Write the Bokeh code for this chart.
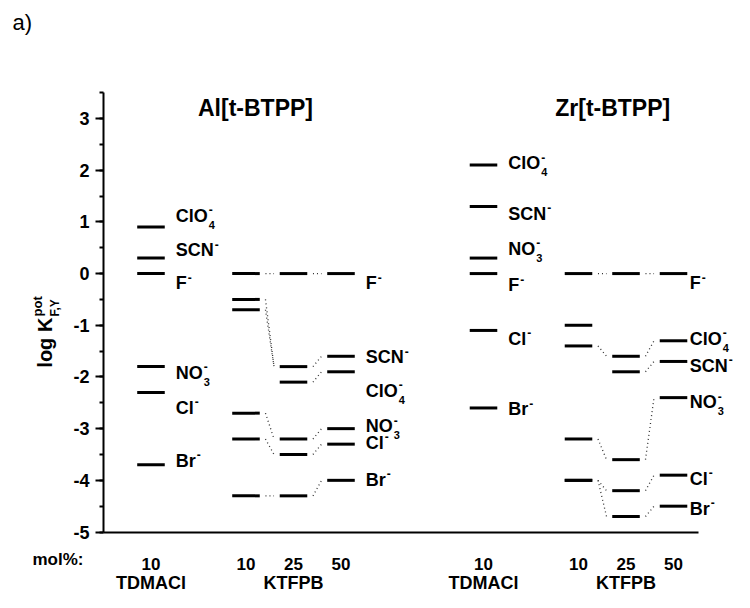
import math
from bokeh.plotting import figure
from bokeh.models import SingleIntervalTicker, FixedTicker, Range1d
from bokeh.core.properties import value
from bokeh.embed import file_html
from bokeh.resources import INLINE

# ---------------- data ----------------
ions = ["F", "SCN", "ClO4", "NO3", "Cl", "Br"]
al_tdmacl = [0.0, 0.3, 0.9, -1.8, -2.3, -3.7]
al_ktfpb_10 = [0.0, -0.5, -0.7, -2.7, -3.2, -4.3]
al_ktfpb_25 = [0.0, -1.8, -2.1, -3.2, -3.5, -4.3]
al_ktfpb_50 = [0.0, -1.6, -1.9, -3.0, -3.3, -4.0]
zr_tdmacl = [0.0, 1.3, 2.1, 0.3, -1.1, -2.6]
zr_ktfpb_10 = [0.0, -1.0, -1.4, -3.2, -4.0, -4.0]
zr_ktfpb_25 = [0.0, -1.9, -1.6, -3.6, -4.2, -4.7]
zr_ktfpb_50 = [0.0, -1.7, -1.3, -2.4, -3.9, -4.5]

mol_pct = ["10", "10", "25", "50", "10", "10", "25", "50"]
salts = ["TDMACl", "KTFPB", "TDMACl", "KTFPB"]
complexes = ["Al[t-BTPP]", "Zr[t-BTPP]"]
y_ticks = [-5, -4, -3, -2, -1, 0, 1, 2, 3]

# dotted links between adjacent KTFPB columns (from ion -> to ion)
al_links_10_25 = [("F", "F"), ("SCN", "SCN"), ("ClO4", "SCN"), ("NO3", "NO3"), ("Cl", "Cl"), ("Br", "Br")]
al_links_25_50 = [(i, i) for i in ions]
zr_links_10_25 = [("F", "F"), ("ClO4", "ClO4"), ("NO3", "NO3"), ("Cl", "Cl"), ("Br", "Br")]
zr_links_25_50 = [(i, i) for i in ions]

# ---------------- layout / style ----------------
W, H = 734, 592
X_RANGE = (-2.168, 13.284)      # frame spans the whole canvas
Y_RANGE = (-6.170, 5.283)
AXIS_X_BOUNDS = (0, 12.526)
AXIS_Y_BOUNDS = (-5, 3.5)

col_x = [1, 3, 4, 5, 8, 10, 11, 12]          # category slots on the x axis
salt_x = [1, 4, 8, 11]
salt_y = -5.98
title_x = [3.2, 10.72]
title_y = 3.21
molpct_pos = (-1.495, -5.53)
panel_pos = (-1.916, 4.857)
ylab_main_pos = (-1.221, -1.82)
ylab_sup_pos = (-1.39, -0.83)
ylab_sub_pos = (-1.0105, -0.83)
half_w = 0.29
link_inset = 0.12
FONT = "Liberation Sans"

# label vertical placement (as drawn in the original, data units), order as `ions`
al_tdmacl_label_y = [-0.19, 0.45, 1.12, -1.92, -2.6, -3.62]
al_k50_label_y = [-0.19, -1.62, -2.27, -2.95, -3.27, -3.99]
zr_tdmacl_label_y = [-0.23, 1.16, 2.13, 0.48, -1.26, -2.62]
zr_k50_label_y = [-0.19, -1.78, -1.26, -2.49, -3.97, -4.55]

main_txt = {"F": "F", "SCN": "SCN", "ClO4": "ClO", "NO3": "NO", "Cl": "Cl", "Br": "Br"}
sub_txt = {"ClO4": "4", "NO3": "3"}
adv = {"F": .611, "S": .667, "C": .722, "N": .722, "l": .278, "O": .778, "B": .722, "r": .389}
LAB_FS = 18

columns = [al_tdmacl, al_ktfpb_10, al_ktfpb_25, al_ktfpb_50,
           zr_tdmacl, zr_ktfpb_10, zr_ktfpb_25, zr_ktfpb_50]

p = figure(width=W, height=H, output_backend="svg", toolbar_location=None,
           x_range=Range1d(*X_RANGE), y_range=Range1d(*Y_RANGE),
           min_border=0, min_border_left=0, min_border_right=0,
           min_border_top=0, min_border_bottom=0)
p.outline_line_color = None
p.grid.visible = False
p.background_fill_color = "white"
p.border_fill_color = "white"

# level lines
x0s, x1s, ys = [], [], []
for cx, vals in zip(col_x, columns):
    for v in vals:
        x0s.append(cx - half_w); x1s.append(cx + half_w); ys.append(v)
p.segment(x0=x0s, y0=ys, x1=x1s, y1=ys, line_color="black", line_width=3)

# dotted connectors
def add_links(c_from, c_to, vals_from, vals_to, links, store):
    for a, b in links:
        store[0].append(c_from + half_w + link_inset)
        store[1].append(vals_from[ions.index(a)])
        store[2].append(c_to - half_w - link_inset)
        store[3].append(vals_to[ions.index(b)])

lk = ([], [], [], [])
add_links(col_x[1], col_x[2], al_ktfpb_10, al_ktfpb_25, al_links_10_25, lk)
add_links(col_x[2], col_x[3], al_ktfpb_25, al_ktfpb_50, al_links_25_50, lk)
add_links(col_x[5], col_x[6], zr_ktfpb_10, zr_ktfpb_25, zr_links_10_25, lk)
add_links(col_x[6], col_x[7], zr_ktfpb_25, zr_ktfpb_50, zr_links_25_50, lk)
p.segment(x0=lk[0], y0=lk[1], x1=lk[2], y1=lk[3], line_color="#333333",
          line_width=1.3, line_dash="1 3")

# ion labels
lx, ly, lt = [], [], []
sx, sy, so = [], [], []
bx, by, bt, bo = [], [], [], []
for cx, dx, label_y in [(col_x[0], 0.52, al_tdmacl_label_y), (col_x[3], 0.52, al_k50_label_y),
                        (col_x[4], 0.52, zr_tdmacl_label_y), (col_x[7], 0.34, zr_k50_label_y)]:
    for ion, y in zip(ions, label_y):
        t = main_txt[ion]
        w = sum(adv[ch] for ch in t) * LAB_FS
        lx.append(cx + dx); ly.append(y); lt.append(t)
        sx.append(cx + dx); sy.append(y); so.append(w + 1)
        if ion in sub_txt:
            bx.append(cx + dx); by.append(y); bt.append(sub_txt[ion]); bo.append(w + 1)

txt = dict(text_font=value(FONT), text_font_style="bold", text_color="black")
p.text(x=lx, y=ly, text=lt, text_font_size=f"{LAB_FS}px", text_baseline="middle",
       text_align="left", **txt)
p.text(x=sx, y=sy, text=["-"] * len(sx), x_offset=so, y_offset=-6, text_font_size="12px",
       text_baseline="middle", text_align="left", **txt)
p.text(x=bx, y=by, text=bt, x_offset=bo, y_offset=9, text_font_size="11px",
       text_baseline="middle", text_align="left", **txt)

# titles
p.text(x=title_x, y=[title_y] * 2, text=complexes, text_font_size="23px",
       text_baseline="middle", text_align="center", **txt)

# texts around the axes
p.text(x=[molpct_pos[0]], y=[molpct_pos[1]], text=["mol%:"], text_font_size="17px",
       text_baseline="middle", text_align="left", **txt)
p.text(x=salt_x, y=[salt_y] * len(salt_x), text=salts, text_font_size="18px",
       text_baseline="middle", text_align="center", **txt)
p.text(x=[panel_pos[0]], y=[panel_pos[1]], text=["a)"], text_font=value(FONT),
       text_font_size="22px", text_baseline="middle", text_align="left", text_color="black")

# y-axis title: log K^pot_{F,Y}
p.text(x=[ylab_main_pos[0]], y=[ylab_main_pos[1]], text=["log K"], angle=math.pi / 2,
       text_font_size="20px", text_baseline="alphabetic", text_align="left", **txt)
p.text(x=[ylab_sup_pos[0]], y=[ylab_sup_pos[1]], text=["pot"], angle=math.pi / 2,
       text_font_size="13px", text_baseline="alphabetic", text_align="left", **txt)
p.text(x=[ylab_sub_pos[0]], y=[ylab_sub_pos[1]], text=["F,Y"], angle=math.pi / 2,
       text_font_size="12px", text_baseline="alphabetic", text_align="left", **txt)

# axes
yax = p.yaxis[0]
yax.fixed_location = 0
yax.bounds = AXIS_Y_BOUNDS
yax.ticker = SingleIntervalTicker(interval=1, num_minor_ticks=2)
yax.major_label_overrides = {t: str(t) for t in y_ticks}
yax.axis_line_width = 2
yax.major_tick_line_width = 2
yax.minor_tick_line_width = 2
yax.major_tick_out = 8
yax.major_tick_in = 0
yax.minor_tick_out = 4
yax.minor_tick_in = 0
yax.major_label_standoff = 6
yax.major_label_text_font = FONT
yax.major_label_text_font_style = "bold"
yax.major_label_text_font_size = "18px"
yax.major_label_text_color = "black"

xax = p.xaxis[0]
xax.fixed_location = AXIS_Y_BOUNDS[0]
xax.bounds = AXIS_X_BOUNDS
xax.ticker = FixedTicker(ticks=col_x)
xax.major_label_overrides = {c: m for c, m in zip(col_x, mol_pct)}
xax.axis_line_width = 2
xax.major_tick_line_color = None
xax.minor_tick_line_color = None
xax.major_label_standoff = 20
xax.major_label_text_font = FONT
xax.major_label_text_font_style = "bold"
xax.major_label_text_font_size = "17px"
xax.major_label_text_color = "black"

open("out.html", "w").write(file_html(p, INLINE))
